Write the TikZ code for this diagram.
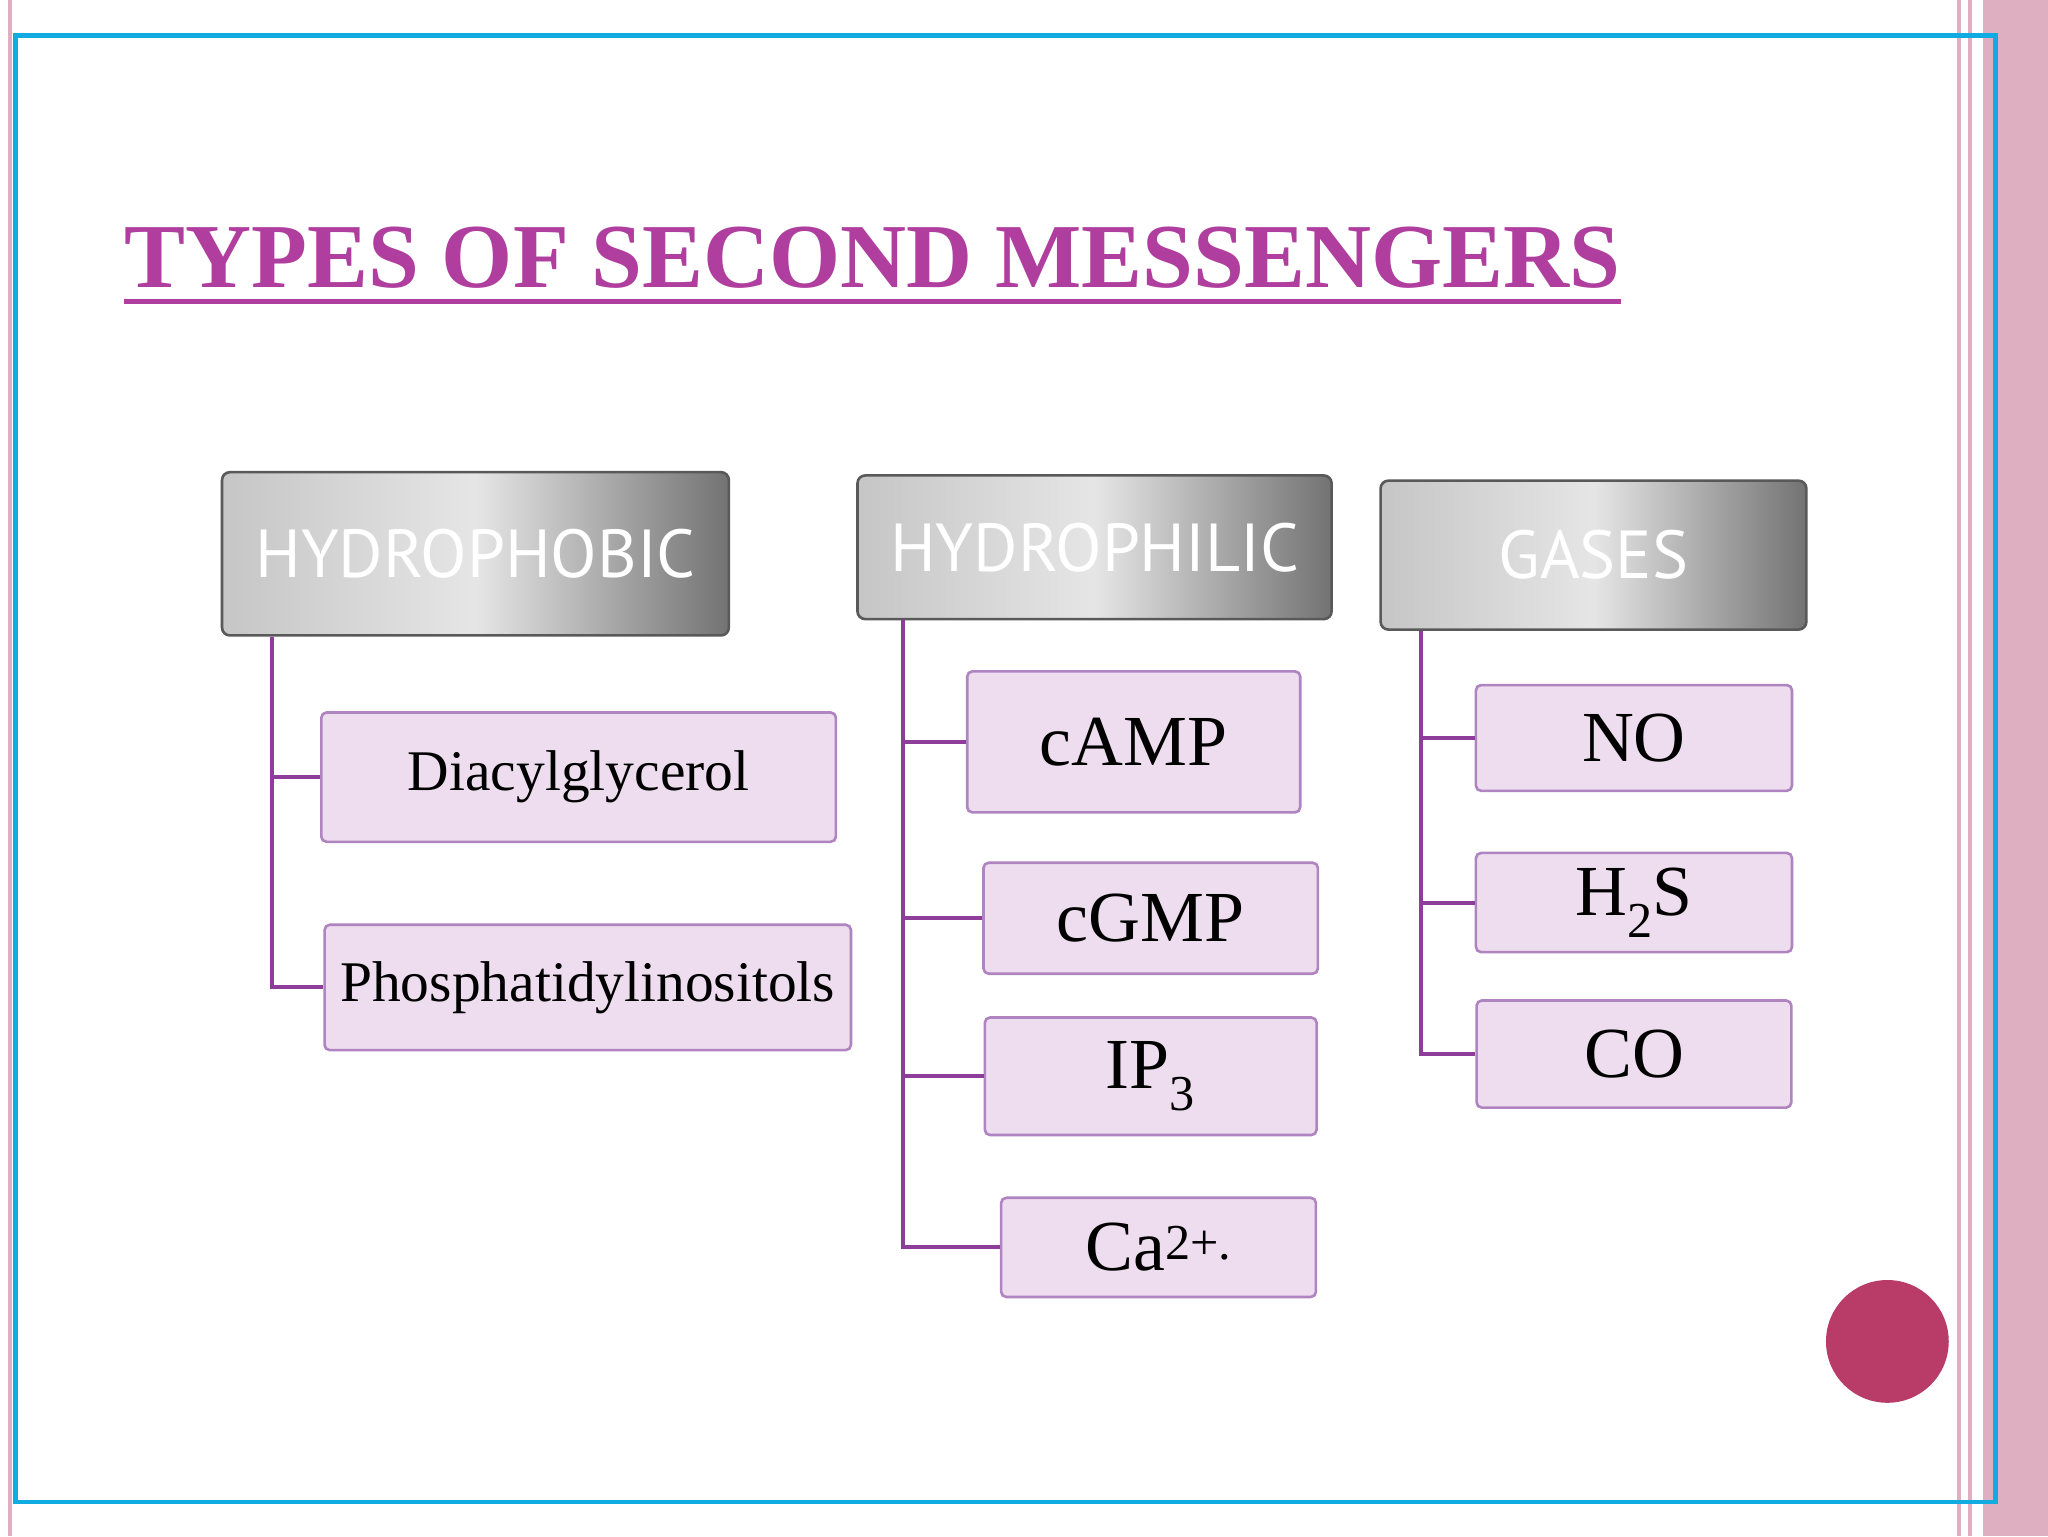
\documentclass[tikz,border=0pt]{standalone}
\usepackage{fontspec}
\setmainfont{Liberation Serif}
\newfontfamily\hdfont{PT Sans}
\definecolor{ttl}{HTML}{B03E9E}
\definecolor{lnk}{HTML}{8E3E9A}
\definecolor{cfill}{HTML}{EDDDEE}
\definecolor{cdraw}{HTML}{B084C0}
\definecolor{frm}{HTML}{10ABE0}
\definecolor{pnk}{HTML}{DDAFC0}
\definecolor{dot}{HTML}{B83B68}
\begin{document}
\begin{tikzpicture}[x=1pt,y=-1pt,
  head/.style={draw=gray!70!black,line width=2pt,rounded corners=6pt,left color=gray!45,right color=gray!90!black,middle color=gray!20,text=white,font=\hdfont\fontsize{52}{60}\selectfont,inner sep=0pt},
  child/.style={draw=cdraw,line width=2pt,rounded corners=4pt,fill=cfill,inner sep=0pt},
  lk/.style={draw=lnk,line width=3pt}]
\useasboundingbox (0,0) rectangle (1568,1176);
\fill[white] (0,0) rectangle (1568,1176);
% borders
\fill[pnk] (1518,0) rectangle (1568,1176);
\draw[pnk,line width=3pt] (1500,0) -- (1500,1176) (1508,0)--(1508,1176) (8,0)--(8,1176);
\draw[frm,line width=3.5pt] (12,27) rectangle (1528,1150);
% title
\node[anchor=base west,text=ttl,font=\bfseries\fontsize{70}{80}\selectfont,inner sep=0pt] (title) at (95,220) {TYPES OF SECOND MESSENGERS};
\draw[ttl,line width=3.5pt] (title.base west)++(0,11) coordinate (u1) -- (u1 -| title.east);
% headers
\node[head,minimum width=388pt,minimum height=125pt] (h1) at (364,424) {HYDROPHOBIC};
\node[head,minimum width=363pt,minimum height=110pt] (h2) at (838,419) {HYDROPHILIC};
\node[head,minimum width=326pt,minimum height=114pt] (h3) at (1220,425) {GASES};
% children
\node[child,minimum width=394pt,minimum height=99pt,font=\fontsize{44}{50}\selectfont] (d) at (443,595) {Diacylglycerol};
\node[child,minimum width=403pt,minimum height=96pt,font=\fontsize{44}{50}\selectfont] (p) at (450,756) {Phosphatidylinositols};
\node[child,minimum width=255pt,minimum height=108pt,font=\fontsize{55}{60}\selectfont] (ca) at (868,568) {cAMP};
\node[child,minimum width=256pt,minimum height=85pt,font=\fontsize{55}{60}\selectfont] (cg) at (881,703) {cGMP};
\node[child,minimum width=254pt,minimum height=90pt,font=\fontsize{55}{60}\selectfont] (ip) at (881,824) {IP\textsubscript{3}};
\node[child,minimum width=241pt,minimum height=76pt,font=\fontsize{55}{60}\selectfont] (cc) at (887,955) {Ca\textsuperscript{2+.}};
\node[child,minimum width=242pt,minimum height=81pt,font=\fontsize{55}{60}\selectfont] (no) at (1251,565) {NO};
\node[child,minimum width=242pt,minimum height=76pt,font=\fontsize{55}{60}\selectfont] (hs) at (1251,691) {H\textsubscript{2}S};
\node[child,minimum width=241pt,minimum height=82pt,font=\fontsize{55}{60}\selectfont] (co) at (1251,807) {CO};
% links
\draw[lk] (h1.south -| 208,0) |- (d.west); \draw[lk] (h1.south -| 208,0) |- (p.west);
\draw[lk] (h2.south -| 691,0) |- (ca.west); \draw[lk] (h2.south -| 691,0) |- (cg.west);
\draw[lk] (h2.south -| 691,0) |- (ip.west); \draw[lk] (h2.south -| 691,0) |- (cc.west);
\draw[lk] (h3.south -| 1088,0) |- (no.west); \draw[lk] (h3.south -| 1088,0) |- (hs.west);
\draw[lk] (h3.south -| 1088,0) |- (co.west);
\fill[dot] (1445,1027) circle (47);
\end{tikzpicture}
\end{document}
